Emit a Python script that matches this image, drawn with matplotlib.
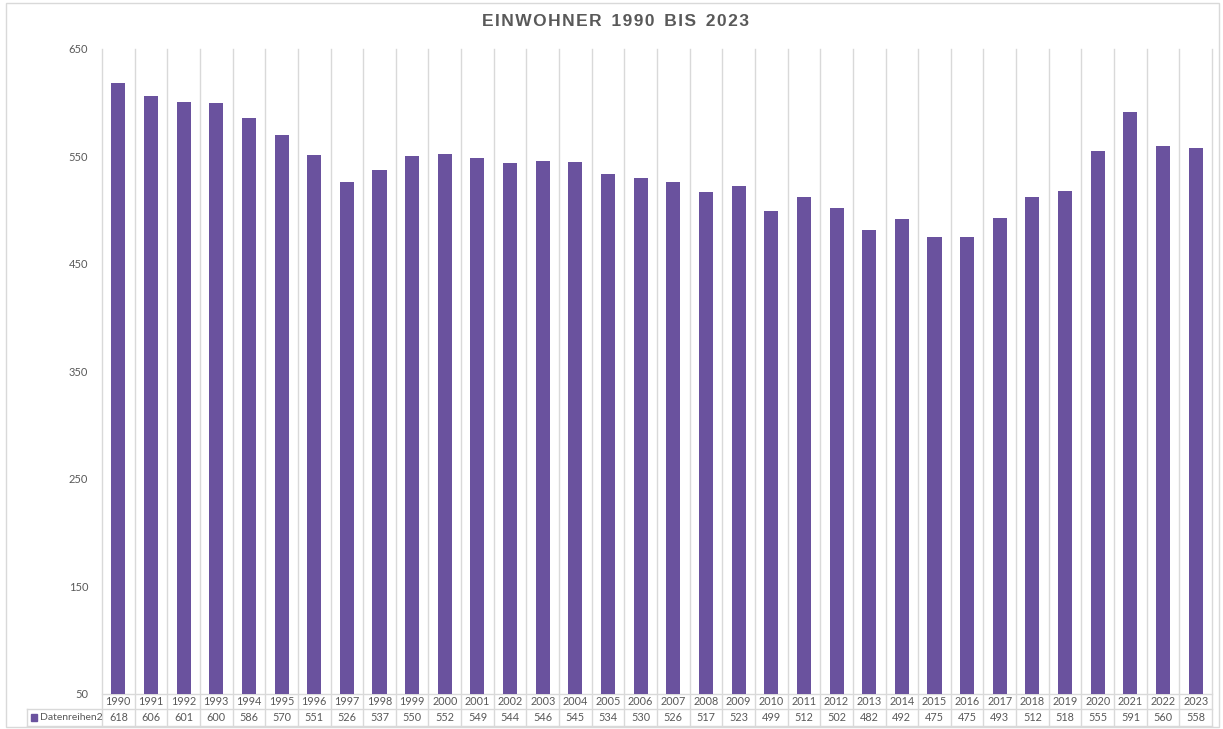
import matplotlib.pyplot as plt
from matplotlib import transforms
from matplotlib.patches import Rectangle

years = list(range(1990, 2024))
einwohner = [618, 606, 601, 600, 586, 570, 551, 526, 537, 550, 552, 549, 544, 546, 545,
             534, 530, 526, 517, 523, 499, 512, 502, 482, 492, 475, 475, 493, 512, 518,
             555, 591, 560, 558]
y_ticks = [50, 150, 250, 350, 450, 550, 650]

W, H = 1223, 729
bar_color = "#6a529e"
grid_color = "#d9d9d9"
text_color = "#595959"
tfont = "Lato"

fig = plt.figure(figsize=(W / 100, H / 100), dpi=100)

def fx(px):
    return px / W

def fy(py):
    return 1 - py / H

ax = fig.add_axes([fx(102), fy(694), fx(1212) - fx(102), fy(49) - fy(694)])
n = len(years)
x = list(range(n))
ax.bar(x, [v - 50 for v in einwohner], bottom=50, width=0.43, color=bar_color, zorder=3)
ax.set_xlim(-0.5, n - 0.5)
ax.set_ylim(50, 650)
ax.set_yticks(y_ticks)
ax.set_yticklabels([str(t) for t in y_ticks], fontsize=8, color=text_color, family=tfont)
ax.tick_params(axis="y", length=0, pad=10)
ax.set_xticks([])
for s in ax.spines.values():
    s.set_visible(False)

# vertical separators, running down through the data table
trans = transforms.blended_transform_factory(ax.transData, fig.transFigure)
for i in range(n + 1):
    ax.plot([i - 0.5, i - 0.5], [fy(49), fy(726)], color=grid_color, lw=1,
            transform=trans, clip_on=False, zorder=1)

# table horizontal lines
ax.plot([-0.5, n - 0.5], [fy(694), fy(694)], color=grid_color, lw=1, transform=trans, clip_on=False)
fig.add_artist(plt.Line2D([fx(27), fx(1212)], [fy(709), fy(709)], color=grid_color, lw=1))
fig.add_artist(plt.Line2D([fx(27), fx(1212)], [fy(726), fy(726)], color=grid_color, lw=1))
fig.add_artist(plt.Line2D([fx(27), fx(27)], [fy(709), fy(726)], color=grid_color, lw=1))

# table texts
for i, (yr, v) in enumerate(zip(years, einwohner)):
    ax.text(i, fy(701.5), str(yr), transform=trans, ha="center", va="center",
            fontsize=7.8, color=text_color, family=tfont)
    ax.text(i, fy(717.5), str(v), transform=trans, ha="center", va="center",
            fontsize=7.8, color=text_color, family=tfont)

fig.add_artist(Rectangle((fx(31), fy(721)), fx(6), fy(714) - fy(721), color=bar_color))
fig.text(fx(40), fy(717.5), "Datenreihen2", ha="left", va="center",
         fontsize=7.5, color=text_color, family=tfont)

# title (letter-spaced)
title = "\u200a".join("EINWOHNER") + "  " + "\u200a".join("1990") + "  " + \
        "\u200a".join("BIS") + "  " + "\u200a".join("2023")
fig.text(fx(616), fy(22), title, ha="center", va="center", fontsize=12.5,
         fontweight="bold", color=text_color, family="Liberation Sans")

# chart border
fig.add_artist(Rectangle((fx(6), fy(727)), fx(1219) - fx(6), fy(3) - fy(727),
                         fill=False, edgecolor=grid_color, lw=1))

fig.savefig("out.png", dpi=100)
